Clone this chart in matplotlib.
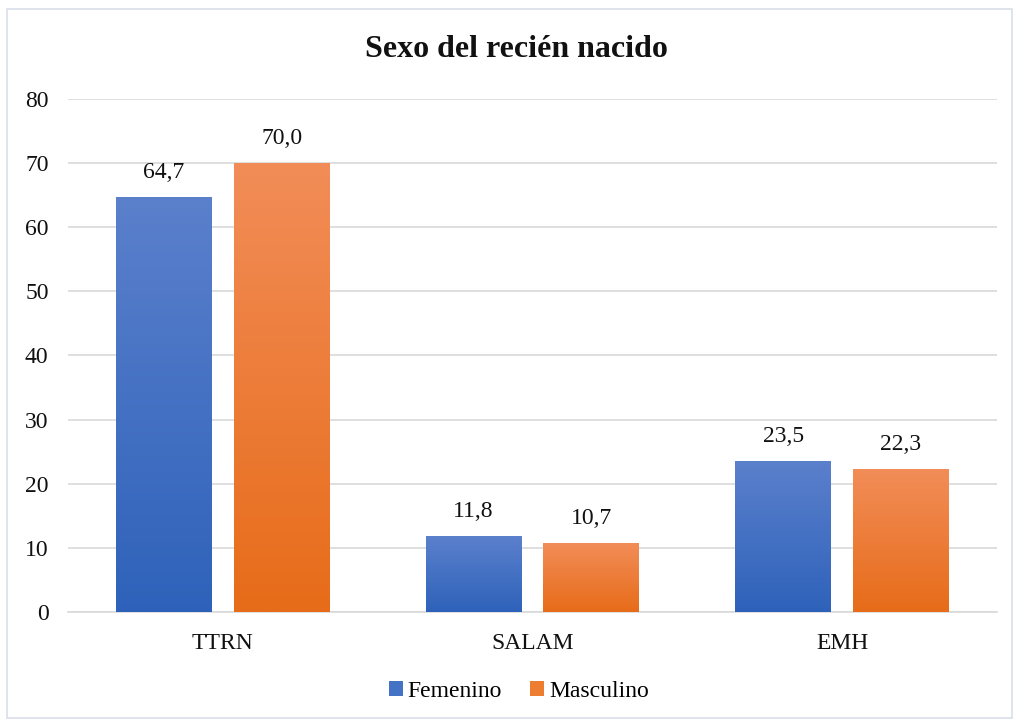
import numpy as np
import matplotlib.pyplot as plt
from matplotlib.colors import LinearSegmentedColormap
from matplotlib.patches import Rectangle, Patch

# --- Data ---
categories = ["TTRN", "SALAM", "EMH"]
femenino = [64.7, 11.8, 23.5]
masculino = [70.0, 10.7, 22.3]
series_names = ["Femenino", "Masculino"]

plt.rcParams['font.family'] = ['Liberation Serif', 'DejaVu Serif']

fig = plt.figure(figsize=(10.17, 7.22), dpi=100)
ax = fig.add_axes([0.0669, 0.1524, 0.9134, 0.7105])

blue_cmap = LinearSegmentedColormap.from_list("b", ["#2E62BA", "#5B80CC"])
orange_cmap = LinearSegmentedColormap.from_list("o", ["#E76C19", "#F28D58"])

width = 0.31
offset = 0.19
x = np.arange(len(categories))
grad = np.linspace(0, 1, 256).reshape(-1, 1)


def gradient_bars(xpos, vals, cmap):
    for xi, v in zip(xpos, vals):
        rect = Rectangle((xi - width / 2, 0), width, v, facecolor='none', edgecolor='none')
        ax.add_patch(rect)
        im = ax.imshow(grad, cmap=cmap, origin='lower', aspect='auto',
                       extent=(xi - width / 2, xi + width / 2, 0, v), zorder=3)
        im.set_clip_path(rect)
        ax.text(xi, v + 2.2, f"{v:.1f}".replace('.', ','), ha='center', va='bottom',
                fontsize=17, color='#111111')


gradient_bars(x - offset, femenino, blue_cmap)
gradient_bars(x + offset, masculino, orange_cmap)

ax.set_xlim(-0.5, 2.5)
ax.set_ylim(0, 80)
ax.set_yticks(range(0, 81, 10))
ax.set_xticks(x)
ax.set_xticklabels(categories)
ax.tick_params(axis='both', length=0, labelsize=17, colors='#111111')
ax.tick_params(axis='y', pad=14)
ax.tick_params(axis='x', pad=15)
ax.grid(axis='y', color='#D9D9D9', linewidth=1.2, zorder=0)
ax.set_axisbelow(True)
for s in ['top', 'right', 'left']:
    ax.spines[s].set_visible(False)
ax.spines['bottom'].set_color('#D9D9D9')
ax.spines['bottom'].set_linewidth(1.2)

fig.text(0.508, 0.931, "Sexo del recién nacido", ha='center', va='center',
         fontsize=23, fontweight='bold', color='#111111')

handles = [Patch(facecolor='#4472C4'), Patch(facecolor='#ED7D31')]
fig.legend(handles, series_names, loc='center', bbox_to_anchor=(0.51, 0.042),
           ncol=2, frameon=False, fontsize=17, handlelength=0.6, handleheight=0.6,
           handletextpad=0.2, columnspacing=1.2)

# figure border
fig.patches.append(Rectangle((0.007, 0.005), 0.988, 0.982, transform=fig.transFigure,
                             fill=False, edgecolor='#D9DEE8', linewidth=1.2))

fig.savefig("out.png", dpi=100)
